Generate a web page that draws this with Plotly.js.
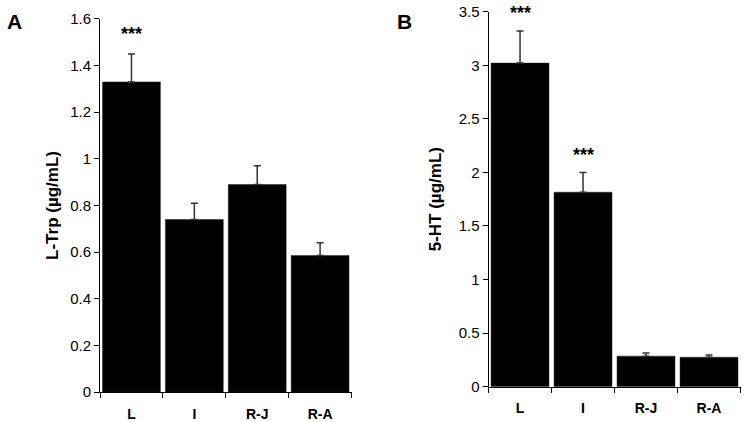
<!DOCTYPE html>
<html>
<head>
<meta charset="utf-8">
<script src="https://cdn.plot.ly/plotly-3.0.1.min.js"></script>
<style>
  body { margin: 0; background: #fff; }
  #chart { width: 747px; height: 422px; }
</style>
</head>
<body>
<div id="chart"></div>
<script>
// groups
var categories = ['L', 'I', 'R-J', 'R-A'];

// panel A: L-Trp
var trpValues = [1.33, 0.74, 0.89, 0.585];
var trpErrors = [0.12, 0.07, 0.08, 0.055];

// panel B: 5-HT
var htValues = [3.02, 1.815, 0.285, 0.275];
var htErrors = [0.30, 0.185, 0.03, 0.02];

// significance marks (height in axis units)
var trpStars = [{ cat: 0, y: 1.555 }];
var htStars = [{ cat: 0, y: 3.53 }, { cat: 1, y: 2.21 }];

var fontFam = 'Liberation Sans, Arial, sans-serif';

var domA = { x: [0.1339, 0.4706], y: [0.0711, 0.955], max: 1.6 };
var domB = { x: [0.654, 0.9913], y: [0.0837, 0.9723], max: 3.5 };

function barTrace(vals, errs, xa, ya) {
    return {
        type: 'bar',
        x: categories,
        y: vals,
        xaxis: xa,
        yaxis: ya,
        marker: { color: '#000', line: { color: '#222', width: 0.5 } },
        error_y: {
            type: 'data',
            symmetric: false,
            array: errs,
            arrayminus: errs.map(function () { return 0; }),
            color: '#333',
            thickness: 1.5,
            width: 3.5
        },
        hoverinfo: 'none'
    };
}

var traces = [
    barTrace(trpValues, trpErrors, 'x', 'y'),
    barTrace(htValues, htErrors, 'x2', 'y2')
];

function xAxis(domain, anchor) {
    return {
        domain: domain,
        anchor: anchor,
        type: 'category',
        range: [-0.5, 3.5],
        showline: true,
        linecolor: '#000',
        linewidth: 1,
        ticks: 'outside',
        tickson: 'boundaries',
        ticklen: 5,
        tickcolor: '#000',
        showgrid: false,
        zeroline: false,
        ticklabelstandoff: 9,
        tickfont: { family: fontFam, size: 14, color: '#000', weight: 'bold' },
        automargin: false
    };
}

function yAxis(domain, anchor, range, dtick, title, standoff) {
    return {
        domain: domain,
        anchor: anchor,
        range: range,
        dtick: dtick,
        showline: true,
        linecolor: '#000',
        linewidth: 1,
        ticks: 'outside',
        ticklen: 5,
        tickcolor: '#000',
        showgrid: false,
        zeroline: false,
        tickfont: { family: fontFam, size: 15, color: '#000' },
        title: { text: title, font: { family: fontFam, size: 17, color: '#000', weight: 'bold' }, standoff: standoff },
        automargin: false
    };
}

// stars placed in paper coords so they may sit above the axis top
function starNotes(list, dom) {
    return list.map(function (s) {
        var w = (dom.x[1] - dom.x[0]) / categories.length;
        return {
            x: dom.x[0] + w * (s.cat + 0.5),
            y: dom.y[0] + (dom.y[1] - dom.y[0]) * s.y / dom.max,
            xref: 'paper', yref: 'paper',
            text: '***', showarrow: false,
            xanchor: 'center', yanchor: 'middle',
            yshift: -5,
            font: { family: fontFam, size: 18, color: '#000', weight: 'bold' }
        };
    });
}

var layout = {
    width: 747,
    height: 422,
    margin: { l: 0, r: 0, t: 0, b: 0 },
    paper_bgcolor: '#fff',
    plot_bgcolor: '#fff',
    showlegend: false,
    bargap: 0.08,
    xaxis: xAxis(domA.x, 'y'),
    yaxis: yAxis(domA.y, 'x', [0, 1.6], 0.2, 'L-Trp (µg/mL)', 7),
    xaxis2: xAxis(domB.x, 'y2'),
    yaxis2: yAxis(domB.y, 'x2', [0, 3.5], 0.5, '5-HT (µg/mL)', 12),
    annotations: starNotes(trpStars, domA)
        .concat(starNotes(htStars, domB))
        .concat([
            { x: 0.019, y: 0.948, xref: 'paper', yref: 'paper', text: 'A', showarrow: false,
              xanchor: 'center', yanchor: 'middle',
              font: { family: fontFam, size: 21, color: '#000', weight: 'bold' } },
            { x: 0.541, y: 0.95, xref: 'paper', yref: 'paper', text: 'B', showarrow: false,
              xanchor: 'center', yanchor: 'middle',
              font: { family: fontFam, size: 21, color: '#000', weight: 'bold' } }
        ])
};

Plotly.newPlot('chart', traces, layout, { staticPlot: true });
</script>
</body>
</html>
